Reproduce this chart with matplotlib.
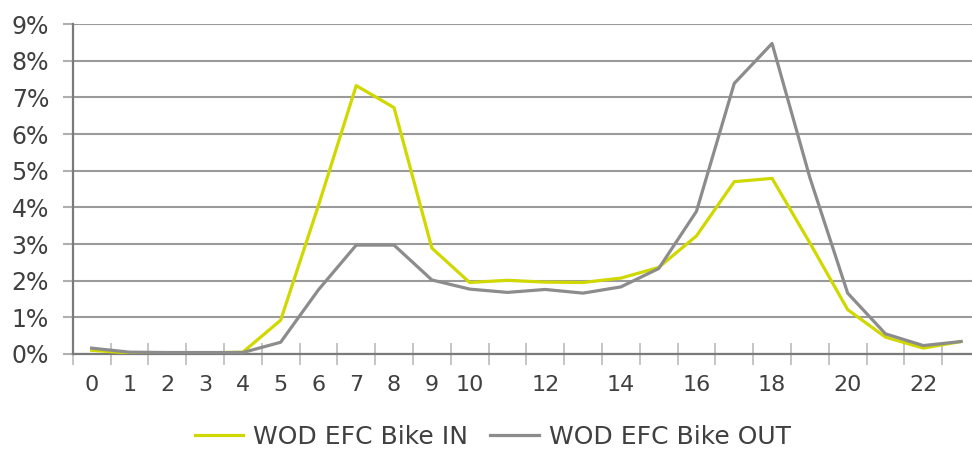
import matplotlib.pyplot as plt
import numpy as np
from matplotlib.ticker import FixedLocator, FuncFormatter

plt.rcParams['font.family'] = ['DejaVu Sans']

hours = list(range(24))
hour_labels = ['0', '1', '2', '3', '4', '5', '6', '7', '8', '9', '10', '', '12', '',
               '14', '', '16', '', '18', '', '20', '', '22', '']

bike_in = [0.10, 0.03, 0.03, 0.03, 0.05, 0.92, 4.05, 7.32, 6.72, 2.89, 1.95, 2.01,
           1.96, 1.95, 2.07, 2.36, 3.22, 4.70, 4.79, 3.03, 1.21, 0.46, 0.16, 0.34]
bike_out = [0.16, 0.05, 0.04, 0.04, 0.04, 0.32, 1.75, 2.97, 2.97, 2.02, 1.77, 1.68,
            1.76, 1.66, 1.83, 2.33, 3.89, 7.38, 8.47, 4.81, 1.66, 0.55, 0.23, 0.34]

yellow = '#d0d800'
grey = '#8c8c8c'
text_col = '#404040'

fig = plt.figure(figsize=(9.72, 4.49), dpi=100)
ax = fig.add_axes([0.0748, 0.2116, 0.9334, 0.7349])

ax.plot(hours, bike_in, color=yellow, lw=2.3, label='WOD EFC Bike IN', zorder=3)
ax.plot(hours, bike_out, color=grey, lw=2.3, label='WOD EFC Bike OUT', zorder=3)

ax.set_xlim(-0.5, 23.5)
ax.set_ylim(0, 9)
ax.set_yticks(np.arange(0, 10, 1))
ax.yaxis.set_major_formatter(FuncFormatter(lambda v, p: '%d%%' % v))
ax.yaxis.grid(True, color='#9a9a9a', lw=1.5)
ax.set_axisbelow(True)

ax.xaxis.set_major_locator(FixedLocator(hours))
ax.set_xticklabels(hour_labels)
ax.xaxis.set_minor_locator(FixedLocator(np.arange(-0.5, 24, 1)))
ax.tick_params(axis='x', which='major', length=0, pad=15, labelsize=16, labelcolor=text_col)
ax.tick_params(axis='x', which='minor', direction='inout', length=16, width=1.3, color='#c0c0c0')
ax.tick_params(axis='y', which='major', length=7, width=1.5, color='#b0b0b0', pad=10,
               labelsize=17, labelcolor=text_col)

for side in ['top', 'right']:
    ax.spines[side].set_visible(False)
for side in ['left', 'bottom']:
    ax.spines[side].set_color('#7a7a7a')
    ax.spines[side].set_linewidth(1.6)

fig.legend(loc='center', bbox_to_anchor=(0.507, 0.027), ncol=2, frameon=False,
           fontsize=18, handlelength=1.95, handletextpad=0.4, columnspacing=0.88,
           labelcolor=text_col)

plt.savefig('out.png', dpi=100)
